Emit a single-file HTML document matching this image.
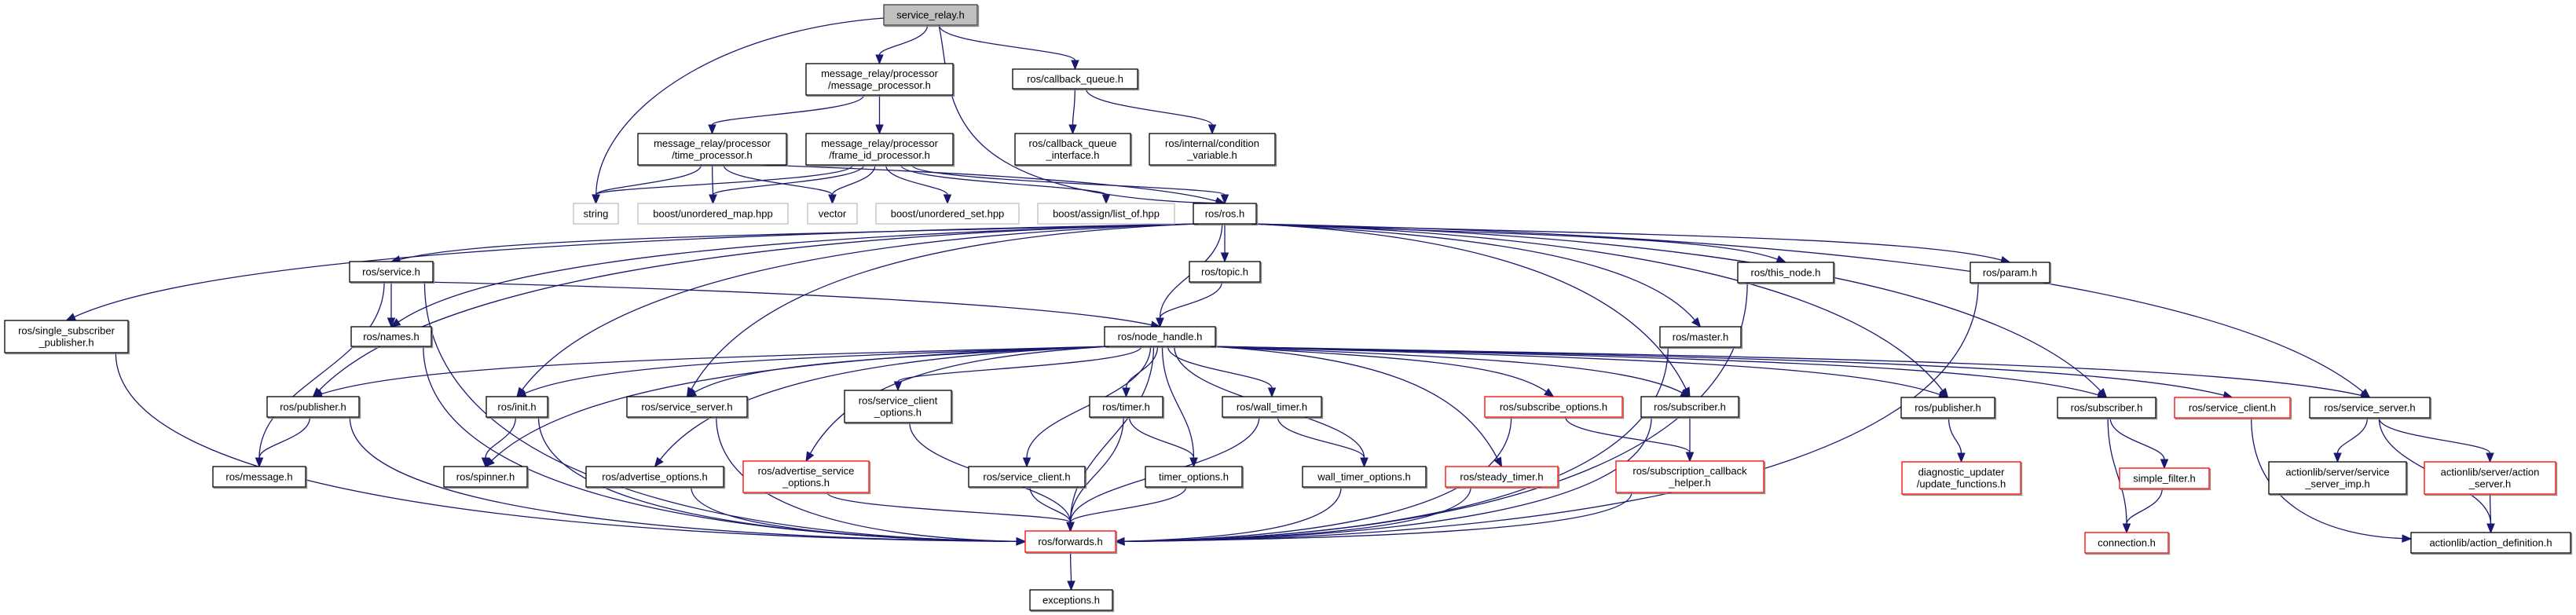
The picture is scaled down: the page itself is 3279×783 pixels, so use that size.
<!DOCTYPE html>
<html><head><meta charset="utf-8">
<style>
html,body{margin:0;padding:0;background:#fff;}
svg{display:block;}
text{font-family:"Liberation Sans","DejaVu Sans",sans-serif;font-size:13px;fill:#000;}
</style></head>
<body>
<svg id="g" xmlns="http://www.w3.org/2000/svg" width="3279" height="783" viewBox="0 0 3279 783"></svg>
<script>
var N={
root:[1125,6,1244,32,["service_relay.h"],"r"],
mp:[1026,81,1213,121,["message_relay/processor","/message_processor.h"],"b"],
cq:[1289,88,1448,113,["ros/callback_queue.h"],"b"],
tp:[812,170,1001,210,["message_relay/processor","/time_processor.h"],"b"],
fp:[1026,170,1213,210,["message_relay/processor","/frame_id_processor.h"],"b"],
cqi:[1292,170,1439,210,["ros/callback_queue","_interface.h"],"b"],
cv:[1463,170,1623,210,["ros/internal/condition","_variable.h"],"b"],
str:[730,259,787,285,["string"],"g"],
um:[812,259,1003,285,["boost/unordered_map.hpp"],"g"],
vec:[1028,259,1091,285,["vector"],"g"],
us:[1115,259,1297,285,["boost/unordered_set.hpp"],"g"],
lo:[1321,259,1495,285,["boost/assign/list_of.hpp"],"g"],
ros:[1519,259,1599,285,["ros/ros.h"],"b"],
srv:[445,333,551,359,["ros/service.h"],"b"],
topic:[1514,333,1604,359,["ros/topic.h"],"b"],
tn:[2212,334,2334,360,["ros/this_node.h"],"b"],
param:[2508,334,2609,360,["ros/param.h"],"b"],
ssp:[6,408,163,449,["ros/single_subscriber","_publisher.h"],"b"],
names:[447,416,549,441,["ros/names.h"],"b"],
nh:[1406,416,1547,441,["ros/node_handle.h"],"b"],
master:[2113,416,2216,442,["ros/master.h"],"b"],
pubL:[340,505,457,531,["ros/publisher.h"],"b"],
init:[619,505,697,531,["ros/init.h"],"b"],
ssM:[798,505,951,531,["ros/service_server.h"],"b"],
sco:[1075,497,1211,538,["ros/service_client","_options.h"],"b"],
timer:[1387,505,1480,531,["ros/timer.h"],"b"],
wt:[1556,505,1682,531,["ros/wall_timer.h"],"b"],
so:[1890,505,2065,531,["ros/subscribe_options.h"],"x"],
subM:[2089,505,2213,531,["ros/subscriber.h"],"b"],
pubR:[2420,506,2539,532,["ros/publisher.h"],"b"],
subR:[2619,506,2744,532,["ros/subscriber.h"],"b"],
scR:[2768,506,2915,532,["ros/service_client.h"],"x"],
ssR:[2940,506,3093,532,["ros/service_server.h"],"b"],
msg:[271,594,389,620,["ros/message.h"],"b"],
spin:[565,594,671,620,["ros/spinner.h"],"b"],
ao:[746,594,921,620,["ros/advertise_options.h"],"b"],
aso:[946,587,1106,627,["ros/advertise_service","_options.h"],"x"],
scL:[1233,594,1381,620,["ros/service_client.h"],"b"],
to:[1458,594,1581,620,["timer_options.h"],"b"],
wto:[1658,594,1815,620,["wall_timer_options.h"],"b"],
st:[1840,594,1983,620,["ros/steady_timer.h"],"x"],
sch:[2057,587,2245,627,["ros/subscription_callback","_helper.h"],"x"],
du:[2421,588,2572,629,["diagnostic_updater","/update_functions.h"],"x"],
sf:[2698,596,2812,622,["simple_filter.h"],"x"],
ssi:[2888,588,3063,629,["actionlib/server/service","_server_imp.h"],"b"],
as:[3086,588,3253,629,["actionlib/server/action","_server.h"],"x"],
fw:[1305,676,1420,703,["ros/forwards.h"],"x"],
conn:[2654,678,2760,704,["connection.h"],"x"],
ad:[3069,678,3272,704,["actionlib/action_definition.h"],"b"],
exc:[1311,751,1416,777,["exceptions.h"],"b"]
};
var E=[
["root","str"],["root","mp"],["root","ros"],["root","cq"],
["mp","tp"],["mp","fp"],
["tp","str"],["tp","um"],["tp","vec"],["tp","ros"],
["fp","str"],["fp","um"],["fp","vec"],["fp","us"],["fp","lo"],["fp","ros"],
["cq","cqi"],["cq","cv"],
["ros","ssp"],["ros","srv"],["ros","names"],["ros","pubL"],["ros","init"],["ros","ssM"],["ros","nh"],["ros","topic"],["ros","tn"],["ros","master"],["ros","subM"],["ros","pubR"],["ros","param"],["ros","subR"],["ros","ssR"],
["srv","msg"],["srv","fw"],["srv","names"],["srv","nh"],
["ssp","fw"],["names","fw"],["topic","nh"],
["nh","pubL"],["nh","init"],["nh","spin"],["nh","ssM"],["nh","ao"],["nh","aso"],["nh","sco"],["nh","fw"],["nh","scL"],["nh","timer"],["nh","to"],["nh","wt"],["nh","wto"],["nh","st"],["nh","so"],["nh","subM"],["nh","pubR"],["nh","subR"],["nh","scR"],["nh","ssR"],
["pubL","msg"],["pubL","fw"],["init","spin"],["init","fw"],["ssM","fw"],["ao","fw"],["aso","fw"],["sco","fw"],["scL","fw"],
["timer","fw"],["timer","to"],["to","fw"],["wt","fw"],["wt","wto"],["wto","fw"],["st","fw"],
["so","sch"],["so","fw"],["subM","sch"],["subM","fw"],["sch","fw"],["tn","fw"],["master","fw"],["param","fw"],
["pubR","du"],["subR","sf"],["subR","conn"],["sf","conn"],["scR","ad"],["ssR","ssi"],["ssR","as"],["ssR","ad"],["as","ad"],["fw","exc"]
];
var S="",C="#191970";
E.forEach(function(e){
 var a=N[e[0]],b=N[e[1]];
 var acx=(a[0]+a[2])/2,bcx=(b[0]+b[2])/2;
 var sx,sy,tx,ty,c1x,c1y,c2x,c2y;
 var dx=bcx-acx;
 sx=acx+Math.max(-0.4,Math.min(0.4,dx/2000))*(a[2]-a[0]);sy=a[3];
 tx=bcx;ty=b[1];
 var side=false;
 if(e[1]=="fw"&&Math.abs(acx-bcx)>350){side=true;tx=(acx<bcx)?b[0]:b[2];ty=(b[1]+b[3])/2;}
 if(e[1]=="ad"&&e[0]=="scR"){side=true;tx=b[0];ty=b[1]+8;}
 var dy=ty-sy;
 if(side){
   c1x=sx;c1y=sy+dy*0.75;c2x=tx+(acx<bcx?-Math.abs(tx-sx)*0.5:Math.abs(tx-sx)*0.5);c2y=ty-4;
 }else if((e[0]=="ros"||e[0]=="nh")&&Math.abs(dx)>400){
   sx=dx<0?a[0]+6:a[2]-6;sy=a[3];dy=ty-sy;
   c1x=sx+dx*0.5;c1y=sy+14;c2x=tx-dx*0.12;c2y=ty-dy*0.65;
 }else if(Math.abs(dx)>500 && dy<140){
   c1x=sx+dx*0.35;c1y=sy+8;c2x=tx-dx*0.15;c2y=ty-dy*0.55;
 }else{
   c1x=sx;c1y=sy+dy*0.45;c2x=tx;c2y=ty-dy*0.45;
 }
 if(e[0]=="root"&&e[1]=="str"){sx=a[0];sy=(a[1]+a[3])/2+4;c1x=900;c1y=40;c2x=760;c2y=150;}
 if(e[0]=="root"&&e[1]=="ros"){sx=1195;c1x=1215;c1y=120;c2x=1180;c2y=250;}
 var ang=Math.atan2(ty-c2y,tx-c2x),L=11,W=4.5;
 var ex=tx-L*Math.cos(ang),ey=ty-L*Math.sin(ang);
 S+='<path d="M'+sx.toFixed(1)+','+sy.toFixed(1)+' C'+c1x.toFixed(1)+','+c1y.toFixed(1)+' '+c2x.toFixed(1)+','+c2y.toFixed(1)+' '+ex.toFixed(1)+','+ey.toFixed(1)+'" fill="none" stroke="'+C+'" stroke-width="1.3"/>';
 var px=-Math.sin(ang)*W,py=Math.cos(ang)*W;
 S+='<polygon points="'+tx+','+ty+' '+(ex+px).toFixed(1)+','+(ey+py).toFixed(1)+' '+(ex-px).toFixed(1)+','+(ey-py).toFixed(1)+'" fill="'+C+'" stroke="'+C+'"/>';
});
for(var k in N){
 var n=N[k],x=n[0],y=n[1],w=n[2]-n[0],h=n[3]-n[1];
 var st=n[5],stroke=st=="x"?"#ff0000":st=="g"?"#bfbfbf":"#000",fill=st=="r"?"#bfbfbf":"#fff";
 if(st!="g")S+='<rect x="'+(x+1.5)+'" y="'+(y+1.5)+'" width="'+w+'" height="'+h+'" fill="none" stroke="#888" stroke-width="1.3"/>';
 S+='<rect x="'+x+'" y="'+y+'" width="'+w+'" height="'+h+'" fill="'+fill+'" stroke="'+(st=="r"?"#404040":stroke)+'" stroke-width="1.3"/>';
 var cx=x+w/2,L=n[4];
 if(L.length==1)S+='<text x="'+cx+'" y="'+(y+h/2+4.5)+'" text-anchor="middle">'+L[0]+'</text>';
 else{S+='<text x="'+cx+'" y="'+(y+h/2-3)+'" text-anchor="middle">'+L[0]+'</text>';S+='<text x="'+cx+'" y="'+(y+h/2+12)+'" text-anchor="middle">'+L[1]+'</text>';}
}
document.getElementById("g").innerHTML=S;
</script>
</body></html>
